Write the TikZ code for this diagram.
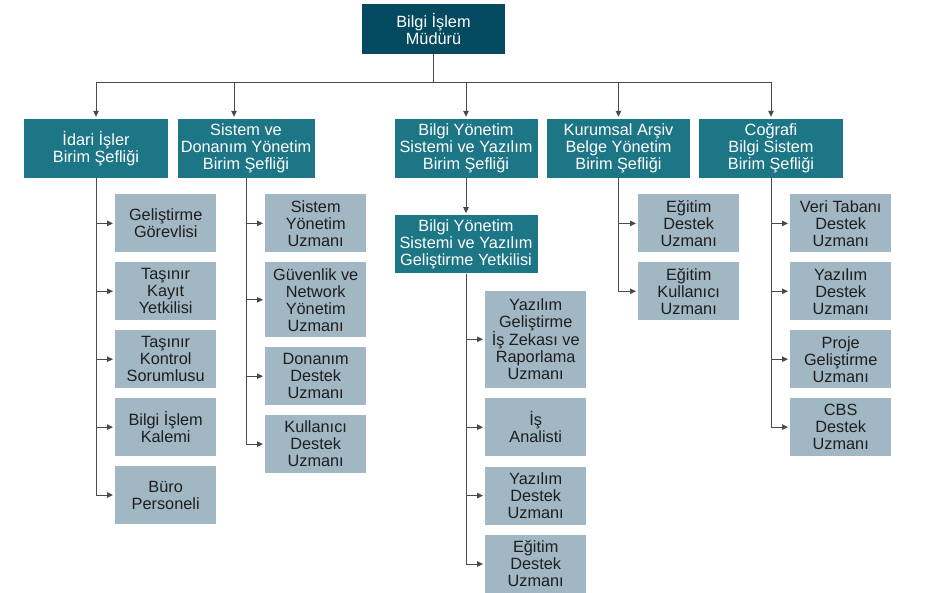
\documentclass[tikz,border=0pt]{standalone}
\usepackage{fontspec}
\setmainfont{Liberation Sans}
\usetikzlibrary{positioning,calc,arrows.meta}
\definecolor{orgtop}{HTML}{034A5F}
\definecolor{orgmid}{HTML}{1C7686}
\definecolor{orgsub}{HTML}{A1B7C3}
\definecolor{orgline}{HTML}{4A4A4A}
\definecolor{orgtext}{HTML}{1E1E1E}

\begin{document}
\begin{tikzpicture}[x=1pt,y=-1pt,
    head/.style={fill=orgtop,text=white,font=\fontsize{16.3}{17}\selectfont,
                 align=center,inner sep=2pt,minimum width=143pt,minimum height=50pt},
    unit/.style={fill=orgmid,text=white,font=\fontsize{16.3}{17}\selectfont,
                 align=center,inner sep=2pt,minimum width=143pt,minimum height=59pt},
    sub/.style={fill=orgsub,text=orgtext,font=\fontsize{16.3}{17}\selectfont,
                align=center,inner sep=2pt,minimum width=101pt,minimum height=58pt},
    arr/.style={-{Triangle[length=6pt,width=5.5pt]},orgline,line width=0.9pt,shorten >=2pt},
  ]
    \useasboundingbox (0,0) rectangle (926,593);

    \node[head] (mudur) at (433.5,29) {Bilgi İşlem\\Müdürü};
    \node[unit,minimum width=144pt] (idari) at (96,148.5) {İdari İşler\\Birim Şefliği};
    \node[unit,minimum width=137pt] (sistem) at (246,148.5) {Sistem ve\\Donanım Yönetim\\Birim Şefliği};
    \node[unit] (bys) at (466,148.5) {Bilgi Yönetim\\Sistemi ve Yazılım\\Birim Şefliği};
    \node[unit] (arsiv) at (618.5,148.5) {Kurumsal Arşiv\\Belge Yönetim\\Birim Şefliği};
    \node[unit,minimum width=144pt] (cbs) at (771,148.5) {Coğrafi\\Bilgi Sistem\\Birim Şefliği};
    \node[unit,below=37pt of bys,minimum height=58pt] (bysgel) {Bilgi Yönetim\\Sistemi ve Yazılım\\Geliştirme Yetkilisi};

    % idari isler
    \node[sub,below right=16pt and 19pt of idari.south] (gelgor) {Geliştirme\\Görevlisi};
    \node[sub,below=9.5pt of gelgor] (tkayit) {Taşınır\\Kayıt\\Yetkilisi};
    \node[sub,below=9.5pt of tkayit] (tkontrol) {Taşınır\\Kontrol\\Sorumlusu};
    \node[sub,below=9.5pt of tkontrol] (kalem) {Bilgi İşlem\\Kalemi};
    \node[sub,below=9.5pt of kalem] (buro) {Büro\\Personeli};

    % sistem ve donanim
    \node[sub,below right=16pt and 19pt of sistem.south] (sysyon) {Sistem\\Yönetim\\Uzmanı};
    \node[sub,below=9.5pt of sysyon,minimum height=75pt] (guven) {Güvenlik ve\\Network\\Yönetim\\Uzmanı};
    \node[sub,below=9.5pt of guven] (donanim) {Donanım\\Destek\\Uzmanı};
    \node[sub,below=9.5pt of donanim] (kuldes) {Kullanıcı\\Destek\\Uzmanı};

    % bilgi yonetim
    \node[sub,below right=17pt and 19pt of bysgel.south,minimum height=97pt] (yazgel) {Yazılım\\Geliştirme\\İş Zekası ve\\Raporlama\\Uzmanı};
    \node[sub,below=10pt of yazgel] (analist) {İş\\Analisti};
    \node[sub,below=10pt of analist] (yazdes) {Yazılım\\Destek\\Uzmanı};
    \node[sub,below=10pt of yazdes] (egtdes) {Eğitim\\Destek\\Uzmanı};

    % kurumsal arsiv
    \node[sub,below right=16pt and 19.5pt of arsiv.south] (arsegt) {Eğitim\\Destek\\Uzmanı};
    \node[sub,below=9.5pt of arsegt] (arskul) {Eğitim\\Kullanıcı\\Uzmanı};

    % cografi bilgi sistem
    \node[sub,below right=16pt and 19pt of cbs.south] (veri) {Veri Tabanı\\Destek\\Uzmanı};
    \node[sub,below=9.5pt of veri] (cbsyaz) {Yazılım\\Destek\\Uzmanı};
    \node[sub,below=9.5pt of cbsyaz] (proje) {Proje\\Geliştirme\\Uzmanı};
    \node[sub,below=9.5pt of proje] (cbsdes) {CBS\\Destek\\Uzmanı};

    % connectors
    \coordinate (bus) at (433.5,82);
    \draw[orgline,line width=0.9pt] (mudur.south) -- (bus);
    \foreach \n in {idari,bys,arsiv,cbs}
      \draw[arr] (bus) -| (\n.north);
    \draw[arr] (bus) -| ([xshift=-12pt]sistem.north);
    \draw[arr] (bys) -- (bysgel);

    \foreach \c in {gelgor,tkayit,tkontrol,kalem,buro}
      \draw[arr] (idari.south) |- (\c.west);
    \foreach \c in {sysyon,guven,donanim,kuldes}
      \draw[arr] (sistem.south) |- (\c.west);
    \foreach \c in {yazgel,analist,yazdes,egtdes}
      \draw[arr] (bysgel.south) |- (\c.west);
    \foreach \c in {arsegt,arskul}
      \draw[arr] (arsiv.south) |- (\c.west);
    \foreach \c in {veri,cbsyaz,proje,cbsdes}
      \draw[arr] (cbs.south) |- (\c.west);
  \end{tikzpicture}
\end{document}
